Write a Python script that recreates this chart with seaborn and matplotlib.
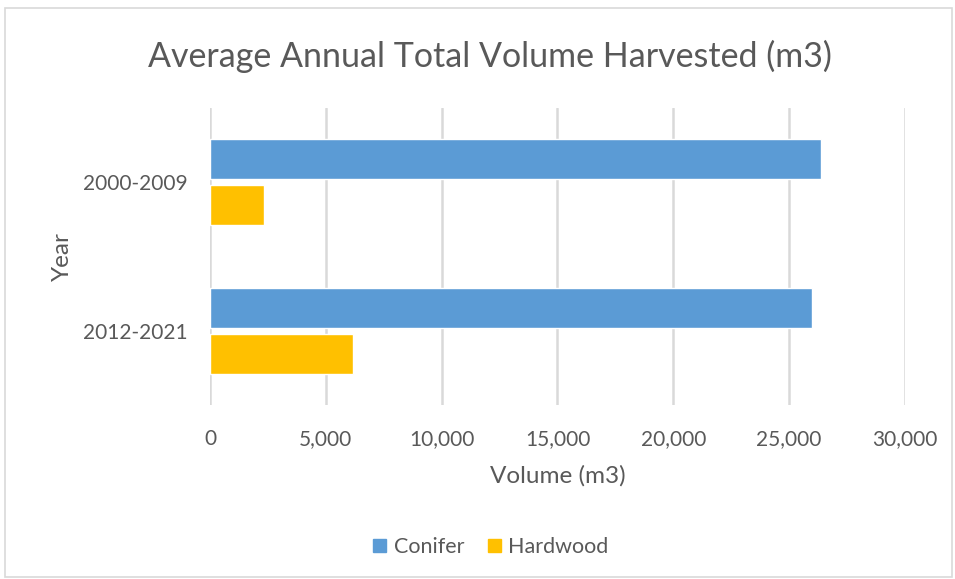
import pandas as pd
import matplotlib.pyplot as plt
import seaborn as sns
from matplotlib.patches import Rectangle
from matplotlib.ticker import FuncFormatter

periods = ["2000-2009", "2012-2021"]
conifer = [26370, 25980]
hardwood = [2320, 6180]
species = ["Conifer", "Hardwood"]
colors = ["#5b9bd5", "#ffc000"]
x_ticks = [0, 5000, 10000, 15000, 20000, 25000, 30000]

df = pd.DataFrame({
    "Year": periods * 2,
    "Volume": conifer + hardwood,
    "Species": [species[0]] * len(periods) + [species[1]] * len(periods),
})

sns.set_style("white")
plt.rcParams["font.family"] = ["Lato", "DejaVu Sans"]
text_color = "#595959"

fig = plt.figure(figsize=(9.55, 5.79), dpi=100)
ax = fig.add_axes([0.2199, 0.3005, 0.7277, 0.513])

sns.barplot(data=df, x="Volume", y="Year", hue="Species", order=periods,
            hue_order=species, palette=colors, saturation=1,
            width=0.62, gap=0.13, orient="h", ax=ax, legend=True)

ax.set_xlim(0, 30000)
ax.set_xticks(x_ticks)
ax.xaxis.set_major_formatter(FuncFormatter(lambda v, p: f"{int(v):,}"))
ax.grid(axis="x", color="#d9d9d9", linewidth=1.8)
ax.set_axisbelow(True)
for s in ax.spines.values():
    s.set_visible(False)
ax.tick_params(axis="both", length=0, labelsize=15, colors=text_color)
ax.tick_params(axis="x", pad=17)
ax.tick_params(axis="y", pad=16)
ax.set_xlabel("Volume (m3)", fontsize=17.5, color=text_color, labelpad=12)
ax.set_ylabel("Year", fontsize=17.5, color=text_color, labelpad=7)

ax.legend_.remove()
handles = [Rectangle((0, 0), 1, 1, color=c) for c in colors]
fig.legend(handles, species, loc="center", bbox_to_anchor=(0.514, 0.055), ncol=2,
           frameon=False, fontsize=15.5, labelcolor=text_color,
           handlelength=0.6, handleheight=0.6, handletextpad=0.35, columnspacing=1.1)

fig.text(0.513, 0.903, "Average Annual Total Volume Harvested (m3)", ha="center",
         va="center", fontsize=24.5, color=text_color)

fig.patches.append(Rectangle((0.005, 0.003), 0.992, 0.983, transform=fig.transFigure,
                             fill=False, edgecolor="#d9d9d9", linewidth=1.2))

fig.savefig("out.png", dpi=100)
